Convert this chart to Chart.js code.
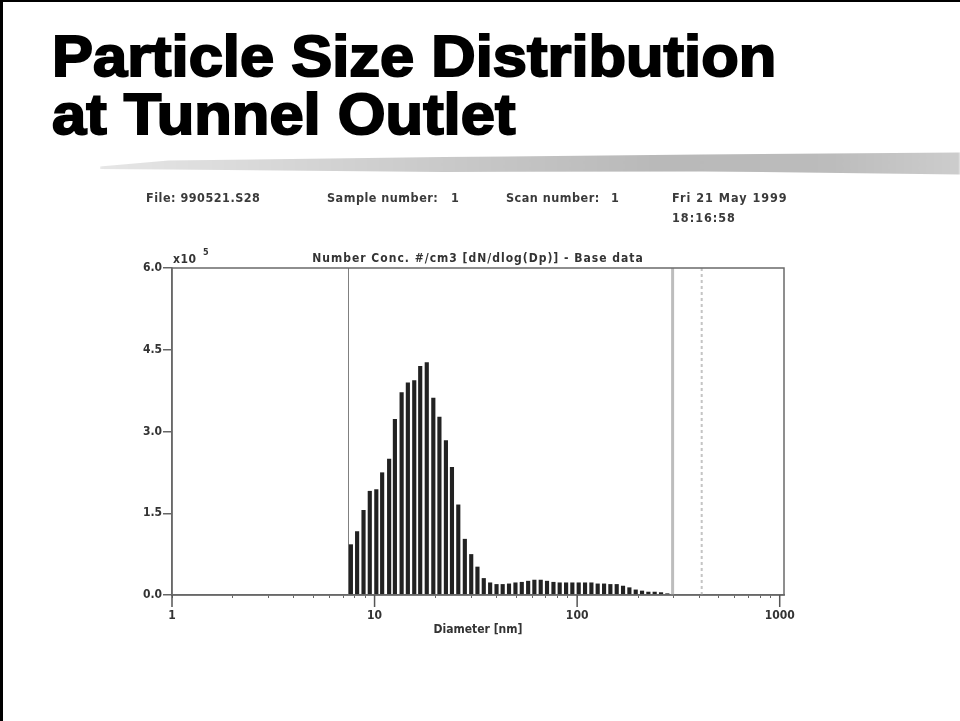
<!DOCTYPE html>
<html>
<head>
<meta charset="utf-8">
<title>Particle Size Distribution at Tunnel Outlet</title>
<script src="https://cdn.jsdelivr.net/npm/chart.js@4.4.1/dist/chart.umd.min.js"></script>
<style>
  html, body { margin: 0; padding: 0; background: #fff; }
  body { width: 960px; height: 721px; position: relative; overflow: hidden; }
  .frame { position: absolute; left: 0; top: 0; width: 960px; height: 721px;
           border-left: 3px solid #000; border-top: 2px solid #000; box-sizing: border-box; }
  h1 { position: absolute; left: 52px; top: 27px; margin: 0; white-space: nowrap;
       font: bold 58px 'Liberation Sans', Arial, sans-serif; line-height: 58px; color: #000;
       -webkit-text-stroke: 2px #000; transform: scaleX(1.06); transform-origin: 0 0; }
  .brush { position: absolute; left: 100px; top: 148px; width: 860px; height: 30px;
           background: linear-gradient(to right, #e6e6e6 0%, #d4d4d4 25%, #c6c6c6 45%, #b9b9b9 65%, #bcbcbc 85%, #cdcdcd 100%);
           clip-path: polygon(0% 62%, 8% 42%, 40% 30%, 70% 22%, 100% 15%, 100% 88%, 70% 78%, 40% 80%, 8% 72%, 0% 70%);
           filter: blur(1px); }
  .info { position: absolute; font: bold 12.5px 'DejaVu Sans Condensed', 'DejaVu Sans', sans-serif;
          color: #3a3a3a; white-space: pre; filter: blur(0.4px); letter-spacing: 0.5px; }
  #wrap { position: absolute; left: 0; top: 0; width: 960px; height: 721px; filter: blur(0.4px); }
</style>
</head>
<body>
<div class="frame"></div>
<h1>Particle Size Distribution<br>at Tunnel Outlet</h1>
<div class="brush"></div>

<div class="info" style="left:146px; top:190px;">File: 990521.S28</div>
<div class="info" style="left:327px; top:190px;">Sample number:</div>
<div class="info" style="left:451px; top:190px;">1</div>
<div class="info" style="left:506px; top:190px;">Scan number:</div>
<div class="info" style="left:611px; top:190px;">1</div>
<div class="info" style="left:672px; top:190px; letter-spacing:1px;">Fri 21 May 1999</div>
<div class="info" style="left:672px; top:210px; letter-spacing:1px;">18:16:58</div>

<div id="wrap"><canvas id="psd"></canvas></div>

<script>
// SMPS scan, channel midpoints (nm)
const diameters = [7.64, 8.20, 8.82, 9.47, 10.2, 10.9, 11.8, 12.6, 13.6, 14.6,
  15.7, 16.8, 18.1, 19.5, 20.9, 22.5, 24.1, 25.9, 27.9, 30.0,
  32.2, 34.6, 37.2, 40.0, 42.9, 46.1, 49.6, 53.3, 57.3, 61.5,
  66.1, 71.0, 76.4, 82.0, 88.2, 94.7, 101.8, 109.4, 117.6, 126.3,
  135.8, 145.9, 156.8, 168.5, 181.1, 194.6, 209.1, 224.7, 241.4, 259.5, 278.8];

// dN/dlogDp, units of 1e5 #/cm3
const numberConc = [0.93, 1.17, 1.56, 1.91, 1.94, 2.25, 2.50, 3.23, 3.72, 3.90,
  3.94, 4.20, 4.27, 3.62, 3.27, 2.84, 2.35, 1.66, 1.03, 0.75,
  0.52, 0.31, 0.23, 0.20, 0.20, 0.21, 0.23, 0.24, 0.26, 0.28,
  0.28, 0.26, 0.24, 0.23, 0.23, 0.23, 0.23, 0.23, 0.23, 0.21,
  0.21, 0.20, 0.20, 0.17, 0.14, 0.10, 0.08, 0.06, 0.06, 0.05, 0.03];

const yTicks = [0, 1.5, 3.0, 4.5, 6.0];
const xDecades = [1, 10, 100, 1000];

const lowerLimit = 7.37;   // scan range, nm
const upperLimit = 296;
const dmaLimit = 412;

const chartTitle = 'Number Conc. #/cm3 [dN/dlog(Dp)] - Base data';
const fontFamily = '"DejaVu Sans Condensed", "DejaVu Sans", sans-serif';

// all tick marks: 1..9 in each decade, plus the last decade
function logTicks() {
  var t = [];
  for (var d = 0; d < xDecades.length - 1; d++) {
    for (var m = 1; m <= 9; m++) t.push(xDecades[d] * m);
  }
  t.push(xDecades[xDecades.length - 1]);
  return t;
}

function vline(ctx, x, top, bottom, color, width, dash) {
  ctx.save();
  ctx.strokeStyle = color;
  ctx.lineWidth = width;
  ctx.setLineDash(dash || []);
  ctx.beginPath();
  ctx.moveTo(x, top);
  ctx.lineTo(x, bottom);
  ctx.stroke();
  ctx.restore();
}

const overlay = {
  id: 'overlay',
  beforeDatasetsDraw(chart) {
    const ctx = chart.ctx, a = chart.chartArea, x = chart.scales.x;
    vline(ctx, Math.round(x.getPixelForValue(lowerLimit)) + 0.5, a.top, a.bottom, '#808080', 1);
    vline(ctx, x.getPixelForValue(upperLimit), a.top, a.bottom, '#bdbdbd', 3);
    vline(ctx, x.getPixelForValue(dmaLimit), a.top, a.bottom, '#c4c4c4', 2, [3, 3]);
  },
  afterDraw(chart) {
    const ctx = chart.ctx, a = chart.chartArea, x = chart.scales.x;
    ctx.save();
    // plot frame
    ctx.strokeStyle = '#6a6a6a';
    ctx.lineWidth = 1.5;
    ctx.strokeRect(a.left, a.top, a.right - a.left, a.bottom - a.top);
    // longer marks at each decade
    xDecades.forEach(function (v) {
      vline(ctx, x.getPixelForValue(v), a.bottom, a.bottom + 12, '#555', 1.5);
    });
    // chart title and multiplier
    ctx.fillStyle = '#333';
    ctx.font = 'bold 12px ' + fontFamily;
    ctx.letterSpacing = '1px';
    ctx.textBaseline = 'alphabetic';
    ctx.textAlign = 'center';
    ctx.fillText(chartTitle, (a.left + a.right) / 2, a.top - 6);
    ctx.textAlign = 'left';
    ctx.letterSpacing = '0.5px';
    ctx.fillText('x10', a.left + 1, a.top - 5);
    ctx.font = 'bold 9px ' + fontFamily;
    ctx.fillText('5', a.left + 31, a.top - 13);
    ctx.restore();
  }
};

const points = diameters.map(function (d, i) { return { x: d, y: numberConc[i] }; });

new Chart(document.getElementById('psd'), {
  type: 'bar',
  data: {
    datasets: [{
      label: 'dN/dlogDp',
      data: points,
      backgroundColor: '#222',
      borderWidth: 0,
      categoryPercentage: 1.0,
      barPercentage: 0.72
    }]
  },
  options: {
    responsive: true,
    maintainAspectRatio: false,
    animation: false,
    devicePixelRatio: 1,
    layout: { padding: { left: 132, right: 176, top: 268, bottom: 84 } },
    plugins: {
      legend: { display: false },
      tooltip: { enabled: false }
    },
    scales: {
      x: {
        type: 'logarithmic',
        min: 1,
        max: 1050,
        offset: false,
        afterBuildTicks: function (scale) {
          scale.ticks = logTicks().map(function (v) { return { value: v }; });
        },
        afterFit: function (scale) { scale.height = 42; },
        grid: { offset: false, drawOnChartArea: false, tickLength: 3, color: '#666', lineWidth: 1 },
        border: { color: '#666', width: 1.5 },
        ticks: {
          autoSkip: false,
          maxRotation: 0,
          padding: 11,
          color: '#333',
          font: { family: fontFamily, size: 12, weight: 'bold' },
          callback: function (v) { return xDecades.indexOf(v) >= 0 ? String(v) : ''; }
        },
        title: {
          display: true,
          text: 'Diameter [nm]',
          padding: { top: 0, bottom: 0 },
          color: '#333',
          font: { family: fontFamily, size: 12, weight: 'bold' }
        }
      },
      y: {
        min: 0,
        max: 6,
        afterBuildTicks: function (scale) {
          scale.ticks = yTicks.map(function (v) { return { value: v }; });
        },
        afterFit: function (scale) { scale.width = 40; },
        grid: { drawOnChartArea: false, tickLength: 9, color: '#666', lineWidth: 1.5 },
        border: { color: '#666', width: 1.5 },
        ticks: {
          padding: 1,
          color: '#333',
          font: { family: fontFamily, size: 12, weight: 'bold' },
          callback: function (v) { return Number(v).toFixed(1); }
        }
      }
    }
  },
  plugins: [overlay]
});
</script>
</body>
</html>
